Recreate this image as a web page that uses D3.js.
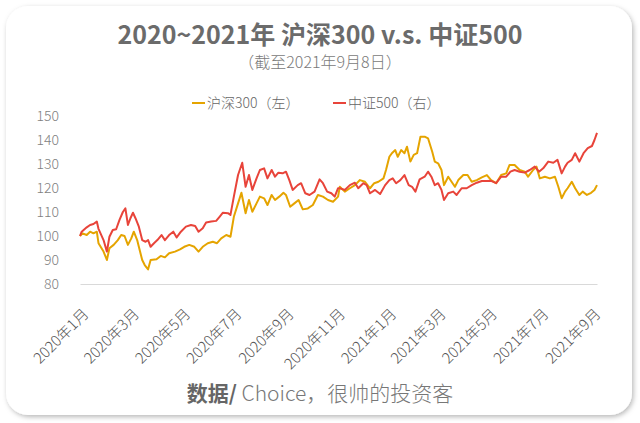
<!DOCTYPE html>
<html>
<head>
<meta charset="utf-8">
<script src="https://cdn.jsdelivr.net/npm/d3@7"></script>
<style>
  html, body { margin: 0; padding: 0; background: #ffffff; }
  svg { display: block; font-family: "Noto Sans CJK SC", "Noto Sans", sans-serif; }
</style>
</head>
<body>
<svg id="chart" width="640" height="423"></svg>
<script>
// ---- data ----
const title = "2020~2021年 沪深300 v.s. 中证500";
const subtitle = "（截至2021年9月8日）";
const seriesNames = ["沪深300（左）", "中证500（右）"];
const yTicks = [80, 90, 100, 110, 120, 130, 140, 150];
const xTickDates = ["2020-01-01","2020-03-01","2020-05-01","2020-07-01","2020-09-01","2020-11-01",
                    "2021-01-01","2021-03-01","2021-05-01","2021-07-01","2021-09-01"];
const xTickLabels = ["2020年1月","2020年3月","2020年5月","2020年7月","2020年9月","2020年11月",
                     "2021年1月","2021年3月","2021年5月","2021年7月","2021年9月"];

const dates300 = ["2020-01-02","2020-01-05","2020-01-10","2020-01-14","2020-01-18","2020-01-22","2020-01-24","2020-01-30",
  "2020-02-03","2020-02-06","2020-02-11","2020-02-16","2020-02-20","2020-02-24","2020-02-28","2020-03-03","2020-03-06",
  "2020-03-10","2020-03-12","2020-03-16","2020-03-19","2020-03-23","2020-03-26","2020-04-02","2020-04-07","2020-04-12",
  "2020-04-17","2020-04-24","2020-04-30","2020-05-05","2020-05-11","2020-05-17","2020-05-22","2020-05-27","2020-06-02",
  "2020-06-08","2020-06-13","2020-06-18","2020-06-24","2020-06-29","2020-07-03","2020-07-08","2020-07-12","2020-07-17",
  "2020-07-21","2020-07-25","2020-07-30","2020-08-03","2020-08-08","2020-08-12","2020-08-17","2020-08-21","2020-08-26",
  "2020-08-31","2020-09-03","2020-09-08","2020-09-13","2020-09-18","2020-09-23","2020-09-29","2020-10-05","2020-10-11",
  "2020-10-17","2020-10-23","2020-10-29","2020-11-04","2020-11-06","2020-11-12","2020-11-18","2020-11-24","2020-11-30",
  "2020-12-06","2020-12-12","2020-12-17","2020-12-22","2020-12-28","2020-12-31","2021-01-04","2021-01-07","2021-01-11",
  "2021-01-14","2021-01-18","2021-01-22","2021-01-25","2021-01-29","2021-02-02","2021-02-06","2021-02-10","2021-02-15",
  "2021-02-19","2021-02-24","2021-02-27","2021-03-03","2021-03-07","2021-03-10","2021-03-15","2021-03-19","2021-03-23",
  "2021-03-27","2021-04-02","2021-04-07","2021-04-12","2021-04-18","2021-04-24","2021-04-30","2021-05-05","2021-05-11",
  "2021-05-17","2021-05-23","2021-05-27","2021-06-02","2021-06-08","2021-06-14","2021-06-18","2021-06-24","2021-06-28",
  "2021-07-02","2021-07-08","2021-07-14","2021-07-20","2021-07-24","2021-07-28","2021-08-01","2021-08-04","2021-08-09",
  "2021-08-13","2021-08-18","2021-08-22","2021-08-27","2021-09-01","2021-09-05","2021-09-08"];
const values300 = [100,101.1,100.4,101.8,101.1,101.8,97,93.5,
  90,94.9,96.3,98.3,100.4,100,96.3,99,101.8,
  98.3,95.5,90,87.9,86.1,90,90.3,91.7,91.1,
  92.8,93.5,94.4,95.5,96.3,95.5,93.5,95.5,97,
  97.6,97,99,100.4,99.7,108,113.6,118,109.5,
  115,110.1,113.6,116.4,115.7,112.9,117.1,115,116.4,
  118,117.1,112.2,113.6,115,111.1,111.5,112.9,117.1,
  116.4,115,114.3,116.4,120.5,118.5,119.9,121.2,123.3,
  122.6,119.9,122,122.6,124,127.5,133,134.5,135.8,
  133,135.8,134.5,137.2,131,133.8,134.5,141.4,141.4,
  140.7,135.1,131,130.3,127.5,121.2,124.7,122.6,120.5,
  123.3,125.4,125.4,122.6,123.3,124.4,125.4,123.3,122,
  125.4,126.1,129.6,129.6,127.5,126.8,124.7,127.5,128.9,
  124,124.7,124,124.7,120.5,115.7,118.5,119.9,122.6,
  119.9,117.1,118.5,117.1,118,119.2,121.2];

const dates500 = ["2020-01-02","2020-01-04","2020-01-10","2020-01-14","2020-01-18","2020-01-22","2020-01-24","2020-01-30",
  "2020-02-03","2020-02-06","2020-02-10","2020-02-14","2020-02-18","2020-02-22","2020-02-25","2020-02-28","2020-03-02",
  "2020-03-05","2020-03-08","2020-03-12","2020-03-16","2020-03-20","2020-03-23","2020-03-26","2020-03-30","2020-04-03",
  "2020-04-08","2020-04-12","2020-04-17","2020-04-22","2020-04-26","2020-05-01","2020-05-07","2020-05-13","2020-05-18",
  "2020-05-22","2020-05-27","2020-05-31","2020-06-06","2020-06-12","2020-06-16","2020-06-20","2020-06-26","2020-06-29",
  "2020-07-03","2020-07-08","2020-07-13","2020-07-17","2020-07-21","2020-07-25","2020-07-30","2020-08-03","2020-08-08",
  "2020-08-12","2020-08-17","2020-08-21","2020-08-25","2020-08-30","2020-09-03","2020-09-07","2020-09-11","2020-09-17",
  "2020-09-21","2020-09-26","2020-10-01","2020-10-07","2020-10-13","2020-10-17","2020-10-22","2020-10-27","2020-10-31",
  "2020-11-04","2020-11-06","2020-11-12","2020-11-18","2020-11-24","2020-11-28","2020-12-04","2020-12-08","2020-12-12",
  "2020-12-18","2020-12-24","2020-12-30","2021-01-04","2021-01-08","2021-01-12","2021-01-17","2021-01-22","2021-01-27",
  "2021-01-31","2021-02-04","2021-02-09","2021-02-15","2021-02-19","2021-02-23","2021-02-27","2021-03-03","2021-03-07",
  "2021-03-10","2021-03-15","2021-03-21","2021-03-25","2021-03-31","2021-04-06","2021-04-12","2021-04-18","2021-04-24",
  "2021-04-30","2021-05-05","2021-05-11","2021-05-17","2021-05-23","2021-05-28","2021-06-02","2021-06-08","2021-06-14",
  "2021-06-20","2021-06-26","2021-07-01","2021-07-06","2021-07-12","2021-07-18","2021-07-23","2021-07-28","2021-08-01",
  "2021-08-04","2021-08-09","2021-08-13","2021-08-18","2021-08-23","2021-08-28","2021-09-02","2021-09-05","2021-09-08"];
const values500 = [100,101.8,103.6,104.6,105,106,103,98.3,
  93.5,99.7,102.5,102.8,106.7,110,111.5,104.6,107.4,
  109.7,107.4,103.9,98.3,97.6,98.3,95.5,97,98.3,
  100.4,98.3,100.4,101.8,99.4,101.8,103.9,104.6,104.2,
  101.8,103.2,105.6,106,106.3,108,109.7,109.5,108.8,
  116.4,125.4,130.5,120.5,125.4,119.2,124,127.5,128.2,
  124,127.5,124.7,126.4,126.1,126.8,123.3,119.2,121.2,
  122,117.8,117.1,118.5,123.6,122,118.5,117.8,116.4,
  119.9,119.9,119.2,121.2,122.2,119.9,122,121.2,117.8,
  119.2,117.5,121.2,123.3,124,122,123.3,125.4,121.2,
  120.5,118.5,123.6,124.7,126.8,124.7,121.2,122,119.2,
  115,117.8,118.5,117.1,119.9,119.9,121.2,122.2,122.9,
  122.9,123,122,124.7,124.7,126.8,127.5,126.8,126.4,
  127.5,128.9,126.8,128.2,131,130.5,131.7,126.1,128.9,
  130.5,131.7,134.5,131,134.5,136.6,137.5,140,143];

const colors = ["#E5A400", "#E8443A"];

// ---- drawing ----
const svg = d3.select("#chart");
const parse = d3.timeParse("%Y-%m-%d");

// card with shadow
const defs = svg.append("defs");
const f = defs.append("filter").attr("id", "shadow").attr("x", "-5%").attr("y", "-5%").attr("width", "110%").attr("height", "110%");
f.append("feDropShadow").attr("dx", 1.5).attr("dy", 2).attr("stdDeviation", 2.5).attr("flood-color", "#000").attr("flood-opacity", 0.28);
svg.append("rect").attr("x", 6).attr("y", 6).attr("width", 626).attr("height", 409)
  .attr("rx", 22).attr("fill", "#fff").attr("filter", "url(#shadow)");

const x = d3.scaleTime().domain([parse("2020-01-02"), parse("2021-09-08")]).range([80, 597]);
const y = d3.scaleLinear().domain([80, 150]).range([284, 116]);

// title
svg.append("text").attr("x", 320).attr("y", 44).attr("text-anchor", "middle")
  .attr("font-size", 25).attr("font-weight", 700).attr("fill", "#6b6b6b").text(title);
svg.append("text").attr("x", 320).attr("y", 68).attr("text-anchor", "middle")
  .attr("font-size", 16).attr("font-weight", 300).attr("fill", "#7a7a7a").text(subtitle);

// legend
const legendX = [192, 333];
seriesNames.forEach((n, i) => {
  const g = svg.append("g").attr("transform", `translate(${legendX[i]},103)`);
  g.append("line").attr("x1", 0).attr("x2", 13).attr("y1", 0).attr("y2", 0)
    .attr("stroke", colors[i]).attr("stroke-width", 2);
  g.append("text").attr("x", 15).attr("y", 5).attr("font-size", 14).attr("font-weight", 300)
    .attr("fill", "#666").text(n);
});

// y axis labels
const yAxis = d3.axisLeft(y).tickValues(yTicks).tickSize(0).tickPadding(0);
const gy = svg.append("g").attr("transform", "translate(59,0)").call(yAxis);
gy.select(".domain").remove();
gy.selectAll("text").attr("font-size", 14).attr("font-weight", 300).attr("fill", "#7f7f7f")
  .attr("font-family", "'Noto Sans CJK SC', sans-serif");

// baseline
const xAxis = d3.axisBottom(x).tickValues(xTickDates.map(parse)).tickSize(0).tickFormat((d, i) => xTickLabels[i]);
const gx = svg.append("g").attr("transform", `translate(0,${y(80)})`).call(xAxis);
gx.select(".domain").attr("stroke", "#d9d9d9").attr("stroke-width", 1.2);
gx.selectAll(".tick text")
  .attr("font-size", 15).attr("font-weight", 300).attr("fill", "#555")
  .attr("font-family", "'Noto Sans CJK SC', sans-serif")
  .attr("text-anchor", "end").attr("y", 0).attr("dy", 0)
  .attr("transform", "translate(10,31) rotate(-45)");

// lines
const line = d3.line().x(d => x(d[0])).y(d => y(d[1]));
const data300 = dates300.map((d, i) => [parse(d), values300[i]]);
const data500 = dates500.map((d, i) => [parse(d), values500[i]]);
svg.append("path").datum(data300).attr("d", line).attr("fill", "none")
  .attr("stroke", colors[0]).attr("stroke-width", 2).attr("stroke-linejoin", "round");
svg.append("path").datum(data500).attr("d", line).attr("fill", "none")
  .attr("stroke", colors[1]).attr("stroke-width", 2).attr("stroke-linejoin", "round");

// footer
const ft = svg.append("text").attr("x", 320).attr("y", 401).attr("text-anchor", "middle").attr("font-size", 21);
ft.append("tspan").attr("font-weight", 700).attr("fill", "#666").text("数据/");
ft.append("tspan").attr("font-weight", 300).attr("fill", "#777").text(" Choice，很帅的投资客");
</script>
</body>
</html>
